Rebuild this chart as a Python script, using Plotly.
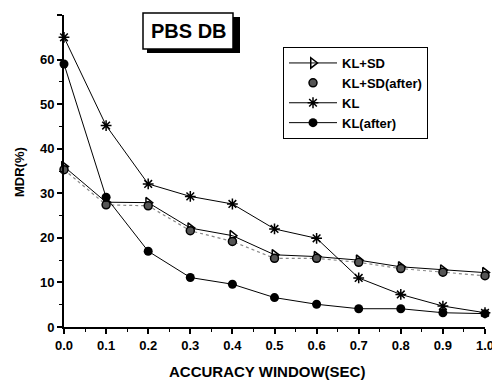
import plotly.graph_objects as go

x_vals = [0.0, 0.1, 0.2, 0.3, 0.4, 0.5, 0.6, 0.7, 0.8, 0.9, 1.0]
x_labels = ["0.0", "0.1", "0.2", "0.3", "0.4", "0.5", "0.6", "0.7", "0.8", "0.9", "1.0"]
y_ticks = [0, 10, 20, 30, 40, 50, 60, 70]
kl_sd = [36.0, 28.0, 27.9, 22.2, 20.5, 16.2, 15.8, 15.0, 13.5, 12.8, 12.2]
kl_sd_after = [35.3, 27.4, 27.2, 21.6, 19.2, 15.4, 15.4, 14.5, 13.1, 12.3, 11.5]
kl = [65.0, 45.2, 32.1, 29.3, 27.6, 22.0, 19.9, 11.0, 7.3, 4.7, 3.2]
kl_after = [59.0, 29.1, 17.0, 11.1, 9.6, 6.6, 5.1, 4.1, 4.1, 3.2, 3.0]

FONT = "Liberation Sans, Arial, sans-serif"
OFF = 8  # page body margin of the browser
W, H = 500 - OFF, 387 - OFF
L, T = 64 - OFF, 15 - OFF
R = W - (485 - OFF)
B = H - (327 - OFF)
PW, PH = W - L - R, H - T - B


def px(xp):
    return (xp - OFF - L) / PW


def py(yp):
    return (H - B - (yp - OFF)) / PH


fig = go.Figure()

# dotted connecting line for KL+SD(after)
fig.add_trace(go.Scatter(x=x_vals, y=kl_sd_after, mode="lines",
                         line=dict(color="#888888", width=1.2, dash="dot"),
                         showlegend=False, hoverinfo="skip", cliponaxis=False))

fig.add_trace(go.Scatter(x=x_vals, y=kl_sd, mode="lines+markers", name="KL+SD",
                         line=dict(color="black", width=1),
                         marker=dict(symbol="triangle-right-open", size=9,
                                     color="black", line=dict(width=1.5)),
                         cliponaxis=False))
fig.add_trace(go.Scatter(x=x_vals, y=kl_sd_after, mode="markers", name="KL+SD(after)",
                         marker=dict(symbol="circle", size=8, color="#555555",
                                     line=dict(color="black", width=1.5)),
                         cliponaxis=False))
fig.add_trace(go.Scatter(x=x_vals, y=kl, mode="lines+markers", name="KL",
                         line=dict(color="black", width=1),
                         marker=dict(symbol="asterisk-open", size=9,
                                     color="black", line=dict(width=1.5, color="black")),
                         cliponaxis=False))
fig.add_trace(go.Scatter(x=x_vals, y=kl_after, mode="lines+markers", name="KL(after)",
                         line=dict(color="black", width=1),
                         marker=dict(symbol="circle", size=9, color="black"),
                         cliponaxis=False))

# Title box with shadow
fig.add_shape(type="rect", xref="paper", yref="paper",
              x0=px(147), x1=px(240), y0=py(53), y1=py(17),
              fillcolor="black", line=dict(width=0), layer="above")
fig.add_shape(type="rect", xref="paper", yref="paper",
              x0=px(143), x1=px(233), y0=py(49), y1=py(13),
              fillcolor="white", line=dict(color="black", width=1.5), layer="above")
fig.add_annotation(text="<b>PBS DB</b>", xref="paper", yref="paper",
                   x=px(189), y=py(31),
                   showarrow=False, font=dict(family=FONT, size=20, color="black"),
                   xanchor="center", yanchor="middle")

# Axis titles
fig.add_annotation(text="<b>ACCURACY WINDOW(SEC)</b>", xref="paper", yref="paper",
                   x=px(267), y=py(371), showarrow=False,
                   font=dict(family=FONT, size=15, color="black"),
                   xanchor="center", yanchor="middle")
fig.add_annotation(text="<b>MDR(%)</b>", xref="paper", yref="paper",
                   x=px(19), y=py(172), showarrow=False, textangle=-90,
                   font=dict(family=FONT, size=13, color="black"),
                   xanchor="center", yanchor="middle")

fig.update_layout(
    width=W, height=H,
    margin=dict(l=L, r=R, t=T, b=B, autoexpand=False),
    paper_bgcolor="white", plot_bgcolor="white",
    font=dict(family=FONT, color="black"),
    showlegend=True,
    legend=dict(x=px(283), y=py(47), xanchor="left", yanchor="top",
                bordercolor="black", borderwidth=1, bgcolor="white",
                font=dict(family=FONT, size=13, color="black", weight="bold"),
                tracegroupgap=0, itemwidth=48, entrywidth=100),
    xaxis=dict(range=[0, 1], tickvals=x_vals, ticktext=x_labels, automargin=False,
               showline=True, linecolor="black", linewidth=2, ticks="outside",
               ticklen=5, tickwidth=1.5, tickcolor="black", showgrid=False, zeroline=False,
               tickfont=dict(family=FONT, size=13, color="black", weight="bold"),
               minor=dict(ticks="outside", ticklen=3, tickwidth=1, tickcolor="black", dtick=0.05)),
    yaxis=dict(range=[0, 70], tickvals=y_ticks, automargin=False,
               showline=True, linecolor="black", linewidth=2, ticks="outside",
               ticklen=5, tickwidth=1.5, tickcolor="black", showgrid=False, zeroline=False,
               tickfont=dict(family=FONT, size=13, color="black", weight="bold"),
               minor=dict(ticks="outside", ticklen=3, tickwidth=1, tickcolor="black", dtick=5)),
)

fig.write_html("out.html")
